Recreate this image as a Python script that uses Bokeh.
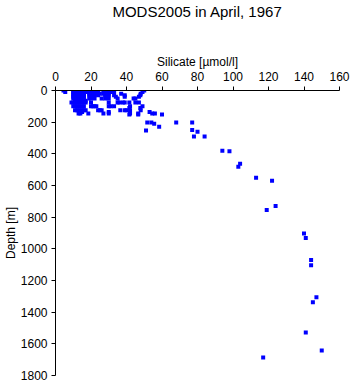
from bokeh.plotting import figure
from bokeh.models import Range1d, FixedTicker, Title
from bokeh.embed import file_html
from bokeh.resources import INLINE

title_text = "MODS2005 in April, 1967"
x_label = "Silicate [µmol/l]"
y_label = "Depth [m]"
x_ticks = [0, 20, 40, 60, 80, 100, 120, 140, 160]
y_ticks = [0, 200, 400, 600, 800, 1000, 1200, 1400, 1600, 1800]

# silicate values observed at each depth level (m)
lvl_0 = [4.5, 10, 11, 12, 13, 14, 15, 16, 19, 20, 22, 23, 24, 28, 29, 30, 33, 50]
lvl_10 = [5.5, 10, 11, 12, 13, 14, 15, 16, 18, 20, 22, 24, 27, 28, 29, 31, 33, 49]
lvl_20 = [10, 11, 12, 13, 14, 15, 16, 19, 21, 23, 25, 27, 28, 30, 37, 48]
lvl_30 = [10, 11, 12, 13, 14, 15, 16, 19, 20, 22, 24, 28, 30, 33, 39, 47.8]
lvl_40 = [10, 12, 14, 16, 34, 39, 47]
lvl_50 = [10, 11, 12, 13, 15, 16, 19, 20, 22, 26, 28, 30, 35, 44, 45]
lvl_65 = [11, 12, 13, 14, 15, 16, 17]
lvl_75 = [9, 10, 11, 12, 13, 14, 16, 17, 20, 30, 35, 36, 38, 39, 41.6, 45, 47]
lvl_100 = [10, 11, 12, 13, 14, 15, 16, 20, 21, 22, 23, 30, 31, 33, 42, 49]
lvl_110 = [41.6, 47.8]
lvl_125 = [11, 12, 13, 14, 15, 16, 17, 24, 25, 26, 36.5, 39, 40, 42, 48]
lvl_135 = [15, 30, 53]
lvl_145 = [13, 14, 18.5, 27, 30, 42, 46.6, 54.5, 56]
lvl_152 = [41.6, 46.6, 60]

deep_depth = [202, 202, 202, 202, 210, 229, 253, 250, 260, 291, 291,
              380, 384, 462, 481, 551, 570, 729, 755, 903, 932,
              1070, 1103, 1305, 1337, 1528, 1642, 1687]
deep_silicate = [51.7, 54, 68, 77, 55.6, 58.4, 51, 77, 80, 78, 84,
                 94, 98, 104, 103, 113, 122, 124, 119, 140, 141,
                 144, 144, 147, 145, 141, 150, 117]

levels = [(0, lvl_0), (10, lvl_10), (20, lvl_20), (30, lvl_30), (40, lvl_40),
          (50, lvl_50), (65, lvl_65), (75, lvl_75), (100, lvl_100),
          (110, lvl_110), (125, lvl_125), (135, lvl_135), (145, lvl_145),
          (152, lvl_152)]

silicate = []
depth = []
for d, vals in levels:
    for v in vals:
        silicate.append(v)
        depth.append(d)
silicate += deep_silicate
depth += deep_depth

FONT = "Liberation Sans"

p = figure(width=351, height=384, output_backend="svg", toolbar_location=None,
           x_axis_location="above", x_range=Range1d(0, 160), y_range=Range1d(1800, 0),
           min_border_left=54, min_border_right=12, min_border_top=90, min_border_bottom=9,
           title=title_text)
p.title.text_font = FONT
p.title.text_font_size = "15px"
p.title.text_font_style = "normal"
p.title.text_color = "black"
p.title.align = "center"
p.title.standoff = 0

spacer = Title(text=" ", text_font_size="2px", standoff=28)
p.add_layout(spacer, "above")

p.outline_line_color = None
p.xgrid.visible = False
p.ygrid.visible = False
p.background_fill_color = "white"
p.border_fill_color = "white"

p.xaxis.ticker = FixedTicker(ticks=x_ticks)
p.yaxis.ticker = FixedTicker(ticks=y_ticks)
for ax in (p.xaxis, p.yaxis):
    ax.major_tick_in = 0
    ax.major_tick_out = 4
    ax.minor_tick_line_color = None
    ax.axis_line_color = "black"
    ax.major_tick_line_color = "black"
    ax.major_label_text_font = FONT
    ax.major_label_text_font_size = "12px"
    ax.major_label_text_color = "black"
    ax.axis_label_text_font = FONT
    ax.axis_label_text_font_size = "12px"
    ax.axis_label_text_font_style = "normal"
    ax.axis_label_text_color = "black"
p.xaxis.axis_label = x_label
p.yaxis.axis_label = y_label
p.xaxis.major_label_standoff = 6
p.xaxis.axis_label_standoff = 0
p.yaxis.major_label_standoff = 4
p.yaxis.axis_label_standoff = 0

p.scatter(silicate, depth, marker="square", size=4, fill_color="blue",
          line_color=None)

open("out.html", "w").write(file_html(p, INLINE))
